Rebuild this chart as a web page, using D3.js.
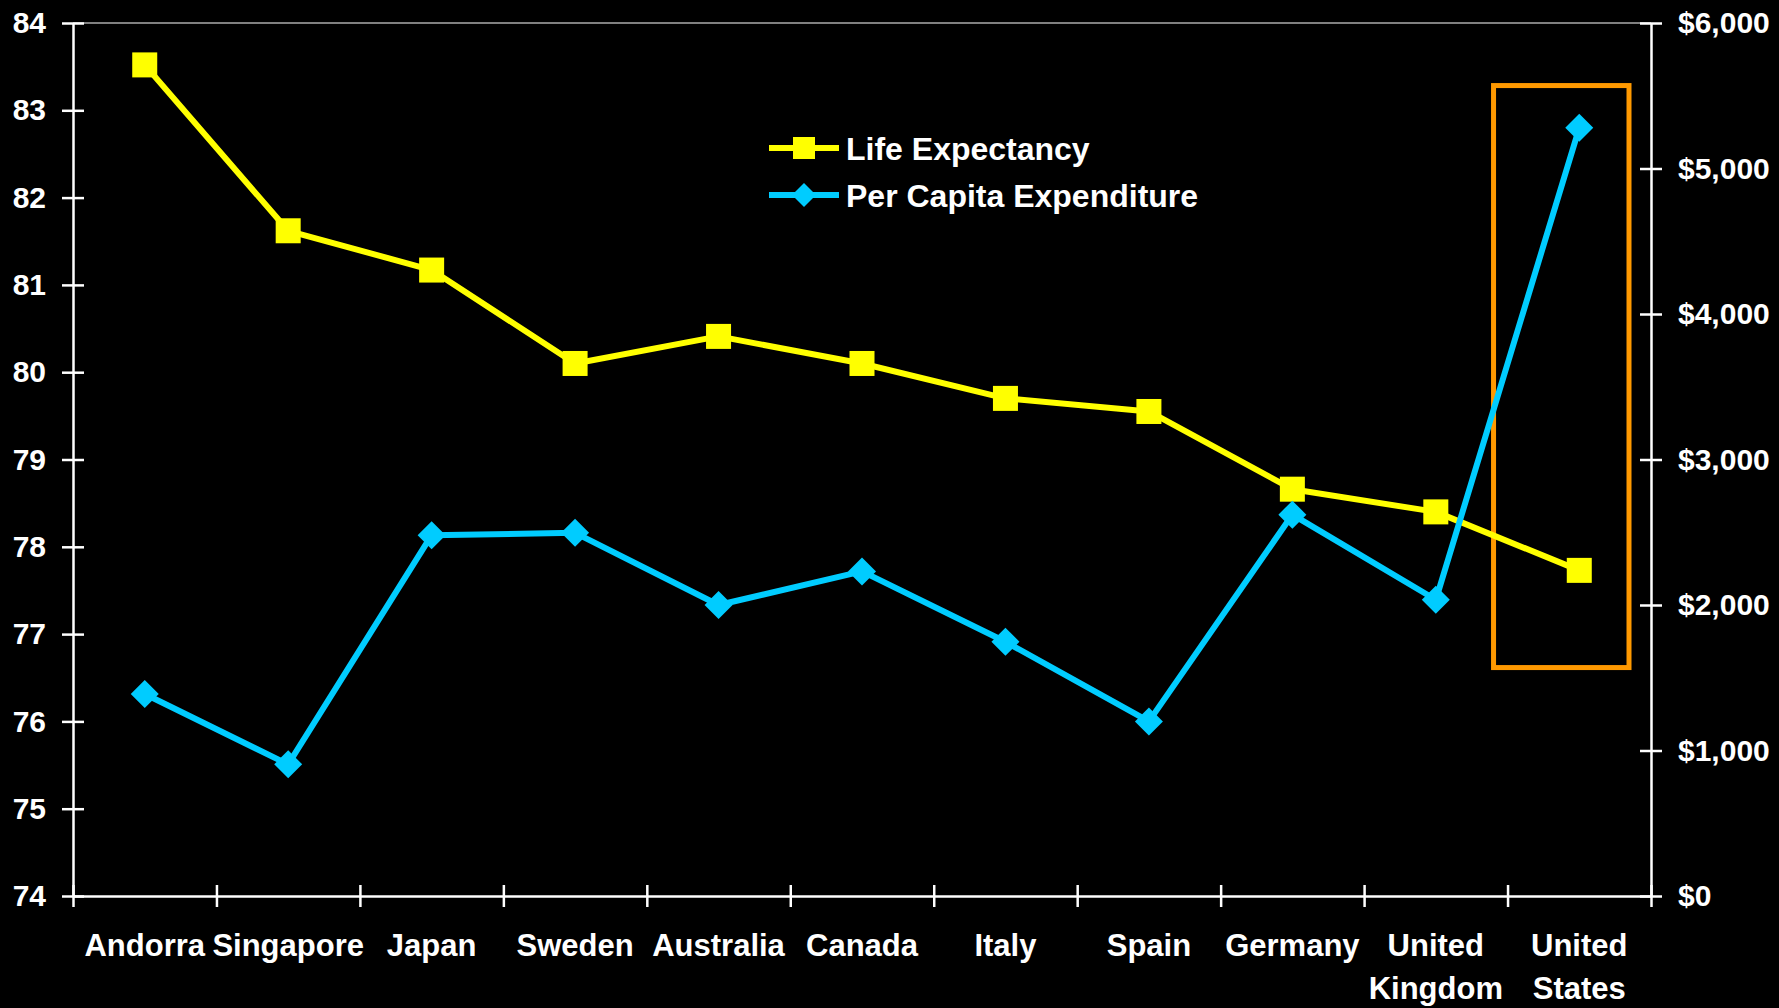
<!DOCTYPE html>
<html>
<head>
<meta charset="utf-8">
<script src="https://cdn.jsdelivr.net/npm/d3@7"></script>
<style>
  html, body { margin: 0; padding: 0; background: #000; }
  svg text { font-family: "Liberation Sans", Arial, sans-serif; font-weight: bold; fill: #fff; }
</style>
</head>
<body>
<div id="chart"></div>
<script>
// data
const categories = ['Andorra', 'Singapore', 'Japan', 'Sweden', 'Australia', 'Canada',
    'Italy', 'Spain', 'Germany', 'United Kingdom', 'United States'];
const lifeExpectancy = [83.52, 81.62, 81.17, 80.10, 80.41, 80.10, 79.70, 79.55, 78.66, 78.40, 77.73];
const perCapitaSpend = [1388, 905, 2480, 2496, 2000, 2231, 1747, 1200, 2621, 2036, 5280];
const leftTicks = [74, 75, 76, 77, 78, 79, 80, 81, 82, 83, 84];
const rightTicks = [0, 1000, 2000, 3000, 4000, 5000, 6000];
const seriesNames = ['Life Expectancy', 'Per Capita Expenditure'];
const highlightRange = [1570, 5570]; // spend range covered by the orange box

const width = 1779;
const height = 1008;
const margin = {top: 23, right: 128, bottom: 112, left: 73};

const yellow = '#ffff00';
const cyan = '#00ccff';
const orange = '#ff9900';

const svg = d3.select('#chart')
    .append('svg')
    .attr('width', width)
    .attr('height', height)
    .style('display', 'block');

svg.append('rect').attr('width', width).attr('height', height).attr('fill', '#000');

const x = d3.scaleBand()
    .domain(categories)
    .range([margin.left, width - margin.right])
    .padding(0);

const xEdges = d3.scaleLinear()
    .domain([0, categories.length])
    .range([margin.left, width - margin.right]);

const yLeft = d3.scaleLinear()
    .domain([74, 84])
    .range([height - margin.bottom, margin.top]);

const yRight = d3.scaleLinear()
    .domain([0, 6000])
    .range([height - margin.bottom, margin.top]);

const cx = (d) => x(d) + x.bandwidth() / 2;

// top border of the plot area
svg.append('line')
    .attr('x1', margin.left).attr('x2', width - margin.right)
    .attr('y1', margin.top).attr('y2', margin.top)
    .attr('stroke', '#808080')
    .attr('stroke-width', 2);

// left axis
const gLeft = svg.append('g')
    .attr('transform', `translate(${margin.left},0)`)
    .call(d3.axisLeft(yLeft).tickValues(leftTicks).tickSize(11).tickSizeOuter(0).tickFormat(d3.format('d')));
gLeft.selectAll('.tick line').attr('x1', 11).attr('x2', -11);
gLeft.selectAll('.tick text').attr('x', -27).style('font-size', '30px');

// right axis
const money = d3.format('$,');
const gRight = svg.append('g')
    .attr('transform', `translate(${width - margin.right},0)`)
    .call(d3.axisRight(yRight).tickValues(rightTicks).tickSize(11).tickSizeOuter(0).tickFormat(money));
gRight.selectAll('.tick line').attr('x1', -11).attr('x2', 11);
gRight.selectAll('.tick text').attr('x', 27).style('font-size', '30px');

// bottom axis with ticks between categories
const gBottom = svg.append('g')
    .attr('transform', `translate(0,${height - margin.bottom})`)
    .call(d3.axisBottom(xEdges).tickValues(d3.range(categories.length + 1)).tickSize(11).tickSizeOuter(0).tickFormat(''));
gBottom.selectAll('.tick line').attr('y1', -11).attr('y2', 11);

[gLeft, gRight, gBottom].forEach((g) => {
    g.select('.domain').attr('stroke', '#fff').attr('stroke-width', 2.5);
    g.selectAll('.tick line').attr('stroke', '#fff').attr('stroke-width', 2.5);
});

// category labels, split on the space for two-word names
const labels = svg.append('g').selectAll('text')
    .data(categories)
    .join('text')
    .attr('text-anchor', 'middle')
    .attr('y', height - margin.bottom + 60)
    .style('font-size', '31px');
labels.each(function (d) {
    const words = d.startsWith('United') ? d.split(' ') : [d];
    d3.select(this).selectAll('tspan')
        .data(words)
        .join('tspan')
        .attr('x', cx(d))
        .attr('dy', (_, i) => i === 0 ? 0 : 43)
        .text((w) => w);
});

// highlight box around the United States
const us = categories[categories.length - 1];
svg.append('rect')
    .attr('x', x(us) - 14)
    .attr('width', x.bandwidth() - 8)
    .attr('y', yRight(highlightRange[1]))
    .attr('height', yRight(highlightRange[0]) - yRight(highlightRange[1]))
    .attr('fill', 'none')
    .attr('stroke', orange)
    .attr('stroke-width', 5);

// life expectancy
const lifeLine = d3.line()
    .x((d, i) => cx(categories[i]))
    .y((d) => yLeft(d));

svg.append('path')
    .datum(lifeExpectancy)
    .attr('d', lifeLine)
    .attr('fill', 'none')
    .attr('stroke', yellow)
    .attr('stroke-width', 6)
    .attr('stroke-linejoin', 'round');

svg.append('g').selectAll('rect')
    .data(lifeExpectancy)
    .join('rect')
    .attr('x', (d, i) => cx(categories[i]) - 12.5)
    .attr('y', (d) => yLeft(d) - 12.5)
    .attr('width', 25)
    .attr('height', 25)
    .attr('fill', yellow);

// per capita expenditure
const spendLine = d3.line()
    .x((d, i) => cx(categories[i]))
    .y((d) => yRight(d));

svg.append('path')
    .datum(perCapitaSpend)
    .attr('d', spendLine)
    .attr('fill', 'none')
    .attr('stroke', cyan)
    .attr('stroke-width', 6)
    .attr('stroke-linejoin', 'round');

const diamond = (r) => `M0,${-r}L${r},0L0,${r}L${-r},0Z`;

svg.append('g').selectAll('path')
    .data(perCapitaSpend)
    .join('path')
    .attr('d', diamond(14))
    .attr('transform', (d, i) => `translate(${cx(categories[i])},${yRight(d)})`)
    .attr('fill', cyan);

// legend
const legend = svg.append('g').attr('transform', 'translate(769,148)');
const rows = legend.selectAll('g')
    .data(seriesNames)
    .join('g')
    .attr('transform', (d, i) => `translate(0,${i * 47})`);

rows.append('line')
    .attr('x1', 0).attr('x2', 70)
    .attr('stroke', (d, i) => i === 0 ? yellow : cyan)
    .attr('stroke-width', 6);

rows.filter((d, i) => i === 0).append('rect')
    .attr('x', 35 - 11).attr('y', -11)
    .attr('width', 22).attr('height', 22)
    .attr('fill', yellow);

rows.filter((d, i) => i === 1).append('path')
    .attr('d', diamond(12))
    .attr('transform', 'translate(35,0)')
    .attr('fill', cyan);

rows.append('text')
    .attr('x', 77)
    .attr('dy', '0.36em')
    .style('font-size', '32px')
    .text((d) => d);
</script>
</body>
</html>
